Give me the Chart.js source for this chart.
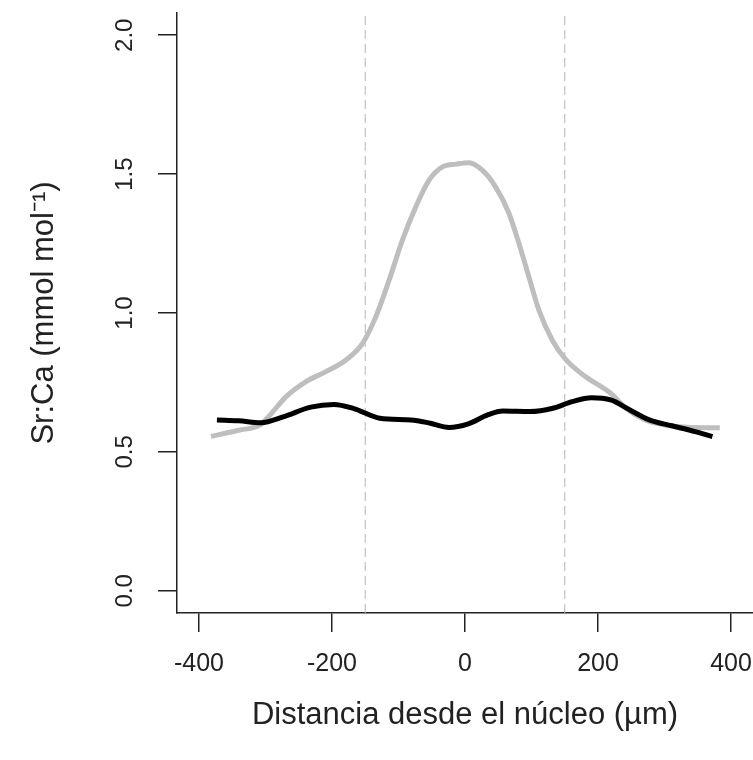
<!DOCTYPE html>
<html>
<head>
<meta charset="utf-8">
<script src="https://cdn.jsdelivr.net/npm/chart.js@4.4.0/dist/chart.umd.min.js"></script>
<style>
html, body { margin: 0; padding: 0; background: #fff; overflow: hidden; }
</style>
</head>
<body>
<canvas id="chart" width="753" height="760"></canvas>
<script>
// tick values
const xTicks = [-400, -200, 0, 200, 400];
const yTicks = [0, 0.5, 1, 1.5, 2];
const dashedAt = [-150, 150];

// gray profile
const grayX = [-382, -340, -308, -293, -269, -239, -209, -179, -154, -134, -114, -94, -74, -54, -34, -13, 6, 26, 46, 66, 81, 96, 111, 131, 152, 181, 219, 242, 271, 300, 334, 383];
const grayY = [0.556, 0.578, 0.597, 0.633, 0.699, 0.753, 0.789, 0.831, 0.891, 0.987, 1.119, 1.263, 1.382, 1.478, 1.526, 1.536, 1.541, 1.514, 1.454, 1.359, 1.251, 1.131, 1.011, 0.903, 0.831, 0.771, 0.711, 0.657, 0.615, 0.597, 0.589, 0.587];

// black profile
const blackX = [-373, -340, -307, -272, -232, -197, -168, -128, -81, -52, -24, 5, 34, 57, 98, 132, 161, 190, 219, 248, 277, 311, 346, 372];
const blackY = [0.615, 0.612, 0.605, 0.627, 0.661, 0.671, 0.657, 0.621, 0.615, 0.603, 0.588, 0.601, 0.633, 0.647, 0.645, 0.657, 0.681, 0.695, 0.687, 0.651, 0.615, 0.594, 0.573, 0.555];

const xMin = -433, xMax = 433;
const yMin = -0.08, yMax = 2.08;
const fontFam = '"Liberation Sans", Arial, sans-serif';

function pts(xs, ys) {
    return xs.map((x, i) => ({ x: x, y: ys[i] }));
}

const dashedSets = dashedAt.map(v => ({
    data: [{ x: v, y: yMin }, { x: v, y: yMax }],
    borderColor: '#b4b4b4',
    borderWidth: 1,
    borderDash: [9, 5],
    pointRadius: 0
}));

// y tick labels are rotated like the R original
const yLabels = {
    id: 'yLabels',
    afterDraw(chart) {
        const ctx = chart.ctx;
        const sy = chart.scales.y;
        ctx.save();
        ctx.font = '24px ' + fontFam;
        ctx.fillStyle = '#222';
        ctx.textAlign = 'center';
        ctx.textBaseline = 'middle';
        yTicks.forEach(v => {
            ctx.save();
            ctx.translate(sy.right - 52, sy.getPixelForValue(v));
            ctx.rotate(-Math.PI / 2);
            ctx.fillText(v.toFixed(1), 0, 0);
            ctx.restore();
        });
        ctx.restore();
    }
};

const ctx = document.getElementById('chart');
new Chart(ctx, {
    type: 'line',
    data: {
        datasets: [
            {
                data: pts(blackX, blackY),
                borderColor: '#000',
                borderWidth: 5,
                pointRadius: 0,
                cubicInterpolationMode: 'monotone'
            },
            {
                data: pts(grayX, grayY),
                borderColor: '#bebebe',
                borderWidth: 5,
                pointRadius: 0,
                cubicInterpolationMode: 'monotone'
            },
            ...dashedSets
        ]
    },
    options: {
        responsive: false,
        animation: false,
        layout: { padding: { top: 13, left: 0, right: 0, bottom: 0 } },
        plugins: { legend: { display: false }, tooltip: { enabled: false } },
        scales: {
            x: {
                type: 'linear',
                min: xMin,
                max: xMax,
                afterBuildTicks: s => { s.ticks = xTicks.map(v => ({ value: v })); },
                afterFit: s => { s.height = 147; s.paddingLeft = 0; s.paddingRight = 0; },
                grid: { drawOnChartArea: false, drawTicks: true, tickLength: 19, tickColor: '#222', lineWidth: 1.5 },
                border: { color: '#222', width: 1.5 },
                ticks: { autoSkip: false, maxRotation: 0, padding: 17, color: '#222', font: { size: 25, family: fontFam } },
                title: { display: true, text: 'Distancia desde el núcleo (µm)', color: '#222', font: { size: 31, family: fontFam }, padding: { bottom: 26 } }
            },
            y: {
                min: yMin,
                max: yMax,
                afterBuildTicks: s => { s.ticks = yTicks.map(v => ({ value: v })); },
                afterFit: s => { s.width = 177; },
                grid: { drawOnChartArea: false, drawTicks: true, tickLength: 19, tickColor: '#222', lineWidth: 1.5 },
                border: { color: '#222', width: 1.5 },
                ticks: { callback: () => '' },
                title: { display: true, text: 'Sr:Ca (mmol mol⁻¹)', color: '#222', font: { size: 31, family: fontFam }, padding: { top: 26 } }
            }
        }
    },
    plugins: [yLabels]
});
</script>
</body>
</html>
